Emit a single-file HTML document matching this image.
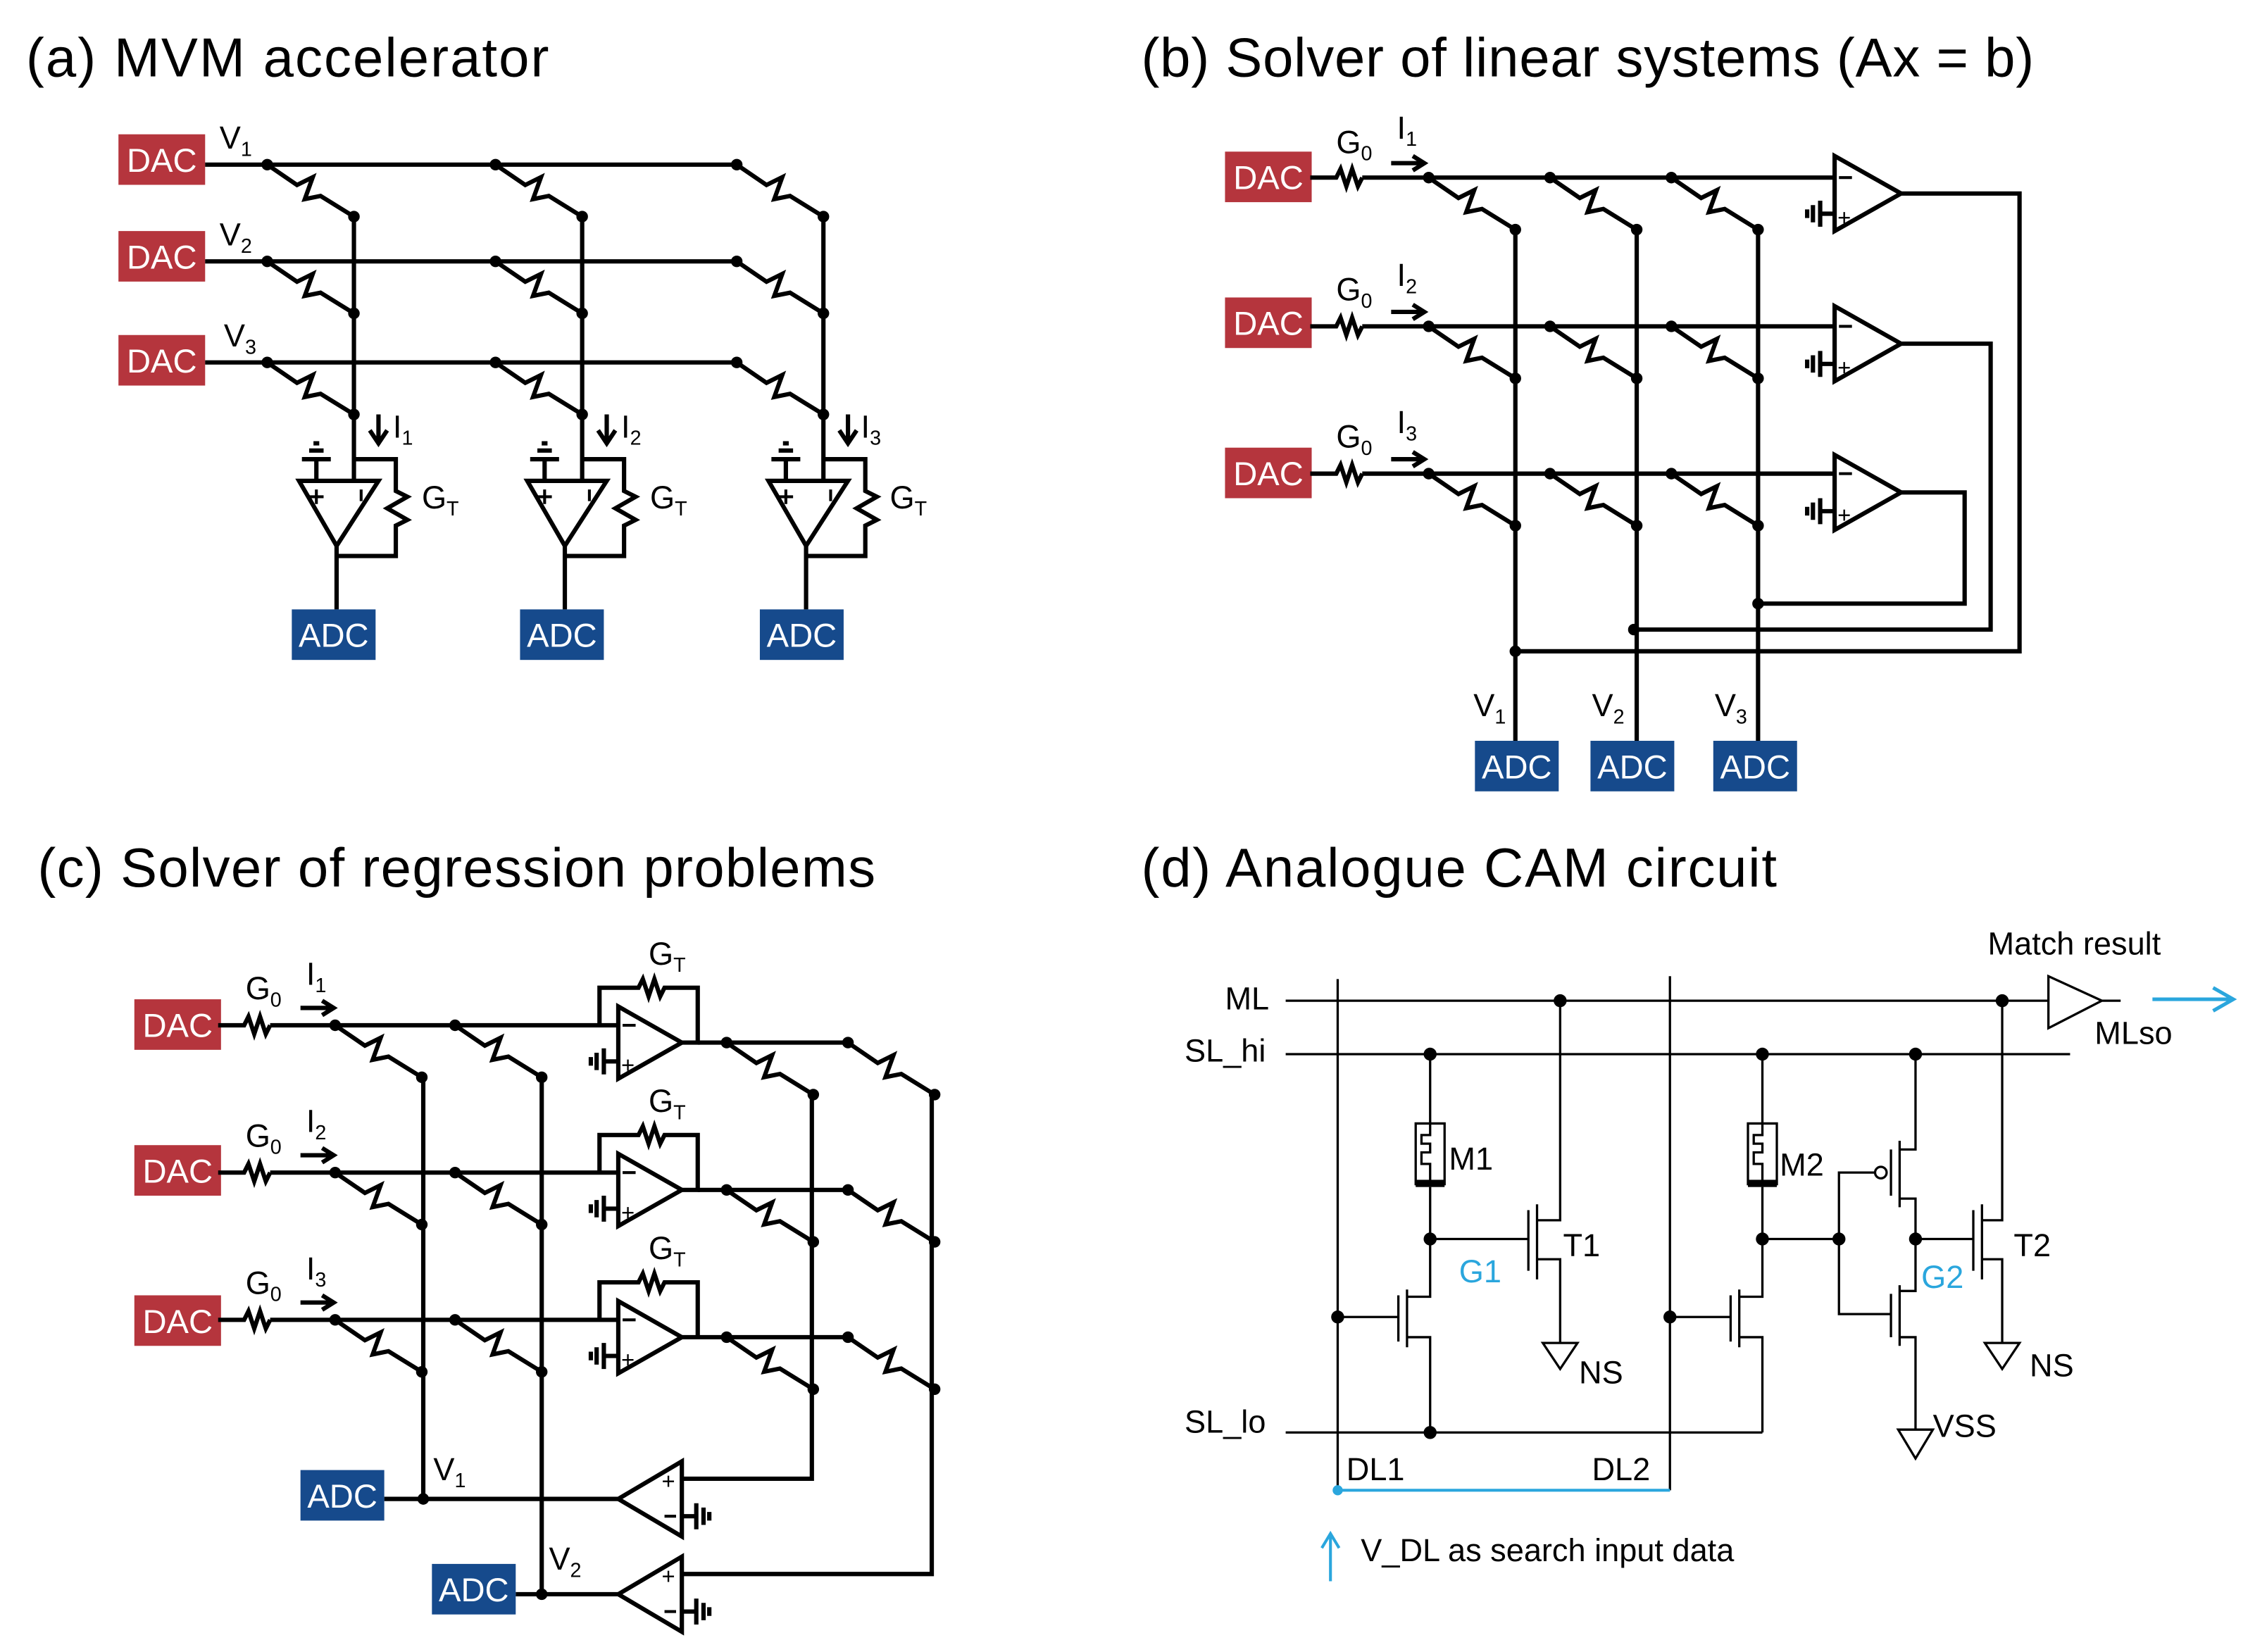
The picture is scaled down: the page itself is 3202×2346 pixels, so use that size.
<!DOCTYPE html>
<html><head><meta charset="utf-8"><style>
html,body{margin:0;padding:0;background:#fff;}
svg{display:block;}
text{font-family:"Liberation Sans",sans-serif;}
</style></head><body>
<svg width="3202" height="2346" viewBox="0 0 1561 1144" preserveAspectRatio="none" xmlns="http://www.w3.org/2000/svg">
<defs>
<g id="r"><path d="M0,0 L20.6,14.1 L31.5,8.7 L26,23.9 L36.9,21.7 L60,36" fill="none" stroke="#000" stroke-width="3" stroke-linejoin="miter"/><circle cx="0" cy="0" r="4"/><circle cx="60" cy="36" r="4"/></g>
<g id="dac"><rect x="0" y="0" width="60" height="35" fill="#B5353D"/><text x="30" y="26" font-size="23" fill="#fff" text-anchor="middle">DAC</text></g>
<g id="adc"><rect x="0" y="0" width="58" height="35" fill="#164A8C"/><text x="29" y="26" font-size="23" fill="#fff" text-anchor="middle">ADC</text></g>
<g id="g0"><path d="M0,0 H18 l3,-6 l4,12 l4,-12 l4,12 l3,-6" fill="none" stroke="#000" stroke-width="3"/></g>
<g id="gl"><path d="M0,0 H-10 M-10,-9 V9 M-15,-6 V6 M-19,-3 V3" fill="none" stroke="#000" stroke-width="3"/></g>
<g id="gr"><path d="M0,0 H10 M10,-9 V9 M15,-6 V6 M19,-3 V3" fill="none" stroke="#000" stroke-width="3"/></g>
<g id="acol" fill="none" stroke="#000" stroke-width="3">
<path d="M0,150 V333"/>
<path d="M-38,333 H17 L-12,378 Z"/>
<path d="M-26,333 V318 M-36,318 H-16 M-31,312 H-21 M-28,307 H-24"/>
<path d="M0,318 H29 V340 l8,4 l-14,8 l14,8 l-8,4 V385 H-12"/>
<path d="M-12,378 V422"/>
<path d="M17,287 V306 M11,298 L17,307 L23,298"/>
<path d="M-31,344 H-21 M-26,339 V349 M5,339 V347" stroke-width="2"/>
</g>
</defs>

<!-- ===== (a) ===== -->
<text x="18" y="53" font-size="38" textLength="362">(a) MVM accelerator</text>
<use href="#dac" x="82" y="93"/><use href="#dac" x="82" y="160"/><use href="#dac" x="82" y="232"/>
<g stroke="#000" stroke-width="3" fill="none">
<path d="M142,114 H510 M142,181 H510 M142,251 H510"/>
</g>
<g>
<use href="#r" x="185" y="114"/><use href="#r" x="185" y="181"/><use href="#r" x="185" y="251"/>
<use href="#r" x="343" y="114"/><use href="#r" x="343" y="181"/><use href="#r" x="343" y="251"/>
<use href="#r" x="510" y="114"/><use href="#r" x="510" y="181"/><use href="#r" x="510" y="251"/>
</g>
<use href="#acol" x="245" y="0"/><use href="#acol" x="403" y="0"/><use href="#acol" x="570" y="0"/>
<use href="#adc" x="202" y="422"/><use href="#adc" x="360" y="422"/><use href="#adc" x="526" y="422"/>
<g font-size="22">
<text x="152" y="103">V<tspan font-size="14" dy="5">1</tspan></text>
<text x="152" y="170">V<tspan font-size="14" dy="5">2</tspan></text>
<text x="155" y="240">V<tspan font-size="14" dy="5">3</tspan></text>
<text x="272" y="303">I<tspan font-size="14" dy="5">1</tspan></text>
<text x="430" y="303">I<tspan font-size="14" dy="5">2</tspan></text>
<text x="596" y="303">I<tspan font-size="14" dy="5">3</tspan></text>
<text x="292" y="352">G<tspan font-size="14" dy="5">T</tspan></text>
<text x="450" y="352">G<tspan font-size="14" dy="5">T</tspan></text>
<text x="616" y="352">G<tspan font-size="14" dy="5">T</tspan></text>
</g>

<!-- ===== (b) ===== -->
<text x="790" y="53" font-size="38" textLength="618">(b) Solver of linear systems (Ax = b)</text>
<use href="#dac" x="848" y="105"/><use href="#dac" x="848" y="206"/><use href="#dac" x="848" y="310"/>
<use href="#g0" x="907" y="123"/><use href="#g0" x="907" y="226"/><use href="#g0" x="907" y="328"/>
<g stroke="#000" stroke-width="3" fill="none">
<path d="M943,123 H1270 M943,226 H1270 M943,328 H1270"/>
<path d="M963,113 H985 M978,108 L986,113 L978,118"/>
<path d="M963,216 H985 M978,211 L986,216 L978,221"/>
<path d="M963,318 H985 M978,313 L986,318 L978,323"/>
<path d="M1049,159 V513 M1133,159 V513 M1217,159 V513"/>
<path d="M1270,108 V160 L1316,134 Z M1270,212 V264 L1316,238 Z M1270,315 V367 L1316,341 Z"/>
<path d="M1316,134 H1398 V451 H1049 M1316,238 H1378 V436 H1131 M1316,341 H1360 V418 H1217"/>
<path d="M1273,123 H1282 M1273,226 H1282 M1273,328 H1282" stroke-width="2"/>
</g>
<use href="#gl" x="1270" y="148"/><use href="#gl" x="1270" y="252"/><use href="#gl" x="1270" y="354"/>
<g font-size="16"><text x="1272" y="156">+</text><text x="1272" y="260">+</text><text x="1272" y="362">+</text></g>
<g>
<use href="#r" x="989" y="123"/><use href="#r" x="1073" y="123"/><use href="#r" x="1157" y="123"/>
<use href="#r" x="989" y="226"/><use href="#r" x="1073" y="226"/><use href="#r" x="1157" y="226"/>
<use href="#r" x="989" y="328"/><use href="#r" x="1073" y="328"/><use href="#r" x="1157" y="328"/>
<circle cx="1049" cy="451" r="4"/><circle cx="1131" cy="436" r="4"/><circle cx="1217" cy="418" r="4"/>
</g>
<use href="#adc" x="1021" y="513"/><use href="#adc" x="1101" y="513"/><use href="#adc" x="1186" y="513"/>
<g font-size="22">
<text x="925" y="106">G<tspan font-size="14" dy="5">0</tspan></text><text x="967" y="96">I<tspan font-size="14" dy="5">1</tspan></text>
<text x="925" y="208">G<tspan font-size="14" dy="5">0</tspan></text><text x="967" y="198">I<tspan font-size="14" dy="5">2</tspan></text>
<text x="925" y="310">G<tspan font-size="14" dy="5">0</tspan></text><text x="967" y="300">I<tspan font-size="14" dy="5">3</tspan></text>
<text x="1020" y="496">V<tspan font-size="14" dy="5">1</tspan></text>
<text x="1102" y="496">V<tspan font-size="14" dy="5">2</tspan></text>
<text x="1187" y="496">V<tspan font-size="14" dy="5">3</tspan></text>
</g>

<!-- ===== (c) ===== -->
<text x="26" y="614" font-size="38" textLength="580">(c) Solver of regression problems</text>
<use href="#dac" x="93" y="692"/><use href="#dac" x="93" y="793"/><use href="#dac" x="93" y="897"/>
<use href="#g0" x="151" y="710"/><use href="#g0" x="151" y="812"/><use href="#g0" x="151" y="914"/>
<g stroke="#000" stroke-width="3" fill="none">
<path d="M187,710 H428 M187,812 H428 M187,914 H428"/>
<path d="M208,698 H230 M223,693 L231,698 L223,703"/>
<path d="M208,800 H230 M223,795 L231,800 L223,805"/>
<path d="M208,902 H230 M223,897 L231,902 L223,907"/>
<path d="M428,697 V747 L472,722 Z M428,799 V849 L472,824 Z M428,901 V951 L472,926 Z"/>
<path d="M415,710 V684 H442 l3,-6 l4,12 l4,-12 l4,12 l3,-6 H483 V722 H472"/>
<path d="M415,812 V786 H442 l3,-6 l4,12 l4,-12 l4,12 l3,-6 H483 V824 H472"/>
<path d="M415,914 V888 H442 l3,-6 l4,12 l4,-12 l4,12 l3,-6 H483 V926 H472"/>
<path d="M483,722 H587 M483,824 H587 M483,926 H587"/>
<path d="M293,746 V1038 M375,746 V1104 M562,760 V1024 H472 M645,760 V1090 H472"/>
<path d="M472,1012 V1064 L428,1038 Z M472,1078 V1130 L428,1104 Z"/>
<path d="M266,1038 H428 M357,1104 H428"/>
<path d="M431,710 H440 M431,812 H440 M431,914 H440 M460,1050 H468 M460,1116 H468" stroke-width="2"/>
</g>
<use href="#gl" x="428" y="735"/><use href="#gl" x="428" y="837"/><use href="#gl" x="428" y="939"/>
<use href="#gr" x="472" y="1050"/><use href="#gr" x="472" y="1116"/>
<g font-size="16"><text x="430" y="743">+</text><text x="430" y="845">+</text><text x="430" y="947">+</text><text x="458" y="1031">+</text><text x="458" y="1097">+</text></g>
<g>
<use href="#r" x="232" y="710"/><use href="#r" x="315" y="710"/>
<use href="#r" x="232" y="812"/><use href="#r" x="315" y="812"/>
<use href="#r" x="232" y="914"/><use href="#r" x="315" y="914"/>
<use href="#r" x="503" y="722"/><use href="#r" x="587" y="722"/>
<use href="#r" x="503" y="824"/><use href="#r" x="587" y="824"/>
<use href="#r" x="503" y="926"/><use href="#r" x="587" y="926"/>
<circle cx="293" cy="1038" r="4"/><circle cx="375" cy="1104" r="4"/>
</g>
<use href="#adc" x="208" y="1018"/><use href="#adc" x="299" y="1083"/>
<g font-size="22">
<text x="170" y="692">G<tspan font-size="14" dy="5">0</tspan></text><text x="212" y="682">I<tspan font-size="14" dy="5">1</tspan></text>
<text x="170" y="794">G<tspan font-size="14" dy="5">0</tspan></text><text x="212" y="784">I<tspan font-size="14" dy="5">2</tspan></text>
<text x="170" y="896">G<tspan font-size="14" dy="5">0</tspan></text><text x="212" y="886">I<tspan font-size="14" dy="5">3</tspan></text>
<text x="449" y="668">G<tspan font-size="14" dy="5">T</tspan></text>
<text x="449" y="770">G<tspan font-size="14" dy="5">T</tspan></text>
<text x="449" y="872">G<tspan font-size="14" dy="5">T</tspan></text>
<text x="300" y="1025">V<tspan font-size="14" dy="5">1</tspan></text>
<text x="380" y="1087">V<tspan font-size="14" dy="5">2</tspan></text>
</g>

<!-- ===== (d) ===== -->
<text x="790" y="614" font-size="38" textLength="440">(d) Analogue CAM circuit</text>
<g stroke="#000" stroke-width="1.6" fill="none">
<path d="M890,693 H1418 M890,730 H1433 M890,992 H1220"/>
<path d="M926,678 V1032 M1156,676 V1032"/>
<path d="M1418,676 V712 L1455,693 Z M1455,693 H1468"/>
<path d="M990,730 V778 M980,778 H1000 V820 H980 Z M990,778 V786 H984 V792 H990 V798 H984 V806 H990 V820"/>
<path d="M990,822 V898 H974 M990,858 H1058 M1058,838 V880 M1064,834 V886 M1064,845 H1080 V693 M1064,872 H1080 V930"/>
<path d="M926,912 H968 M968,897 V929 M974,893 V933 M974,926 H990 V992"/>
<path d="M1068,930 H1092 L1080,948 Z"/>
<path d="M1220,730 V778 M1210,778 H1230 V820 H1210 Z M1220,778 V786 H1214 V792 H1220 V798 H1214 V806 H1220 V820"/>
<path d="M1220,822 V898 H1204 M1220,858 H1273 V812 H1298 M1273,858 V910 H1309"/>
<path d="M1156,912 H1198 M1198,897 V929 M1204,893 V933 M1204,926 H1220 V992"/>
<circle cx="1302" cy="812" r="4"/>
<path d="M1309,796 V828 M1315,790 V836 M1315,796 H1326 V730 M1315,830 H1326 V858"/>
<path d="M1309,896 V926 M1315,890 V932 M1315,894 H1326 V858 M1315,926 H1326 V990"/>
<path d="M1314,990 H1338 L1326,1010 Z"/>
<path d="M1326,858 H1366 M1366,838 V880 M1372,834 V886 M1372,845 H1386 V693 M1372,872 H1386 V930"/>
<path d="M1374,930 H1398 L1386,948 Z"/>
</g>
<g>
<rect x="980" y="817" width="20" height="5"/><rect x="1210" y="817" width="20" height="5"/>
<circle cx="1080" cy="693" r="4.5"/><circle cx="1386" cy="693" r="4.5"/>
<circle cx="990" cy="730" r="4.5"/><circle cx="1220" cy="730" r="4.5"/><circle cx="1326" cy="730" r="4.5"/>
<circle cx="990" cy="858" r="4.5"/><circle cx="1220" cy="858" r="4.5"/><circle cx="1273" cy="858" r="4.5"/><circle cx="1326" cy="858" r="4.5"/>
<circle cx="926" cy="912" r="4.5"/><circle cx="1156" cy="912" r="4.5"/>
<circle cx="990" cy="992" r="4.5"/>
</g>
<g stroke="#2AA6DD" stroke-width="2" fill="none">
<path d="M926,1032 H1156"/>
<path d="M921,1095 V1064 M915,1072 L921,1062 L927,1072"/>
<path d="M1490,692 H1544 M1532,684 L1546,692 L1532,700" stroke-width="2.5"/>
</g>
<circle cx="926" cy="1032" r="3.5" fill="#2AA6DD"/>
<g font-size="22" fill="#000">
<text x="848" y="699">ML</text>
<text x="820" y="735">SL_hi</text>
<text x="820" y="992">SL_lo</text>
<text x="1376" y="661">Match result</text>
<text x="1450" y="723">MLso</text>
<text x="1003" y="810">M1</text>
<text x="1232" y="814">M2</text>
<text x="1082" y="870">T1</text>
<text x="1394" y="870">T2</text>
<text x="1093" y="958">NS</text>
<text x="1405" y="953">NS</text>
<text x="1338" y="995">VSS</text>
<text x="932" y="1025">DL1</text>
<text x="1102" y="1025">DL2</text>
<text x="942" y="1081">V_DL as search input data</text>
</g>
<g font-size="22" fill="#2AA6DD"><text x="1010" y="888">G1</text><text x="1330" y="892">G2</text></g>
</svg>
</body></html>
